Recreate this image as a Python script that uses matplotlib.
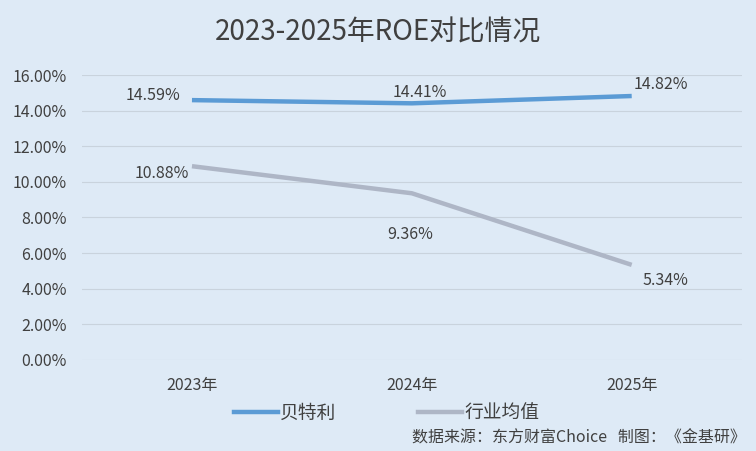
import matplotlib.pyplot as plt
from matplotlib.lines import Line2D

plt.rcParams['font.family'] = ['Noto Sans CJK SC', 'DejaVu Sans']

years = ['2023年', '2024年', '2025年']
betley = [14.59, 14.41, 14.82]
industry = [10.88, 9.36, 5.34]
yticks = [0, 2, 4, 6, 8, 10, 12, 14, 16]

bg = '#DEEAF6'
txt = '#404040'
blue = '#5B9BD5'
gray = '#AEB6C6'

fig = plt.figure(figsize=(7.56, 4.51), dpi=100, facecolor=bg)
ax = fig.add_axes([0.1085, 0.2018, 0.8725, 0.6319], facecolor=bg)

x = range(len(years))
ax.plot(x, betley, color=blue, lw=3.2, solid_capstyle='butt')
ax.plot(x, industry, color=gray, lw=3.2, solid_capstyle='butt')

ax.set_xlim(-0.5, 2.5)
ax.set_ylim(0, 16)
ax.set_yticks(yticks)
ax.set_yticklabels([f'{v:.2f}%' for v in yticks])
ax.set_xticks(list(x))
ax.set_xticklabels(years)
ax.tick_params(length=0, labelsize=11.5, colors=txt)
ax.tick_params(axis='y', pad=11)
ax.tick_params(axis='x', pad=12)
ax.grid(axis='y', color='#C9D3DD', lw=0.8)
ax.set_axisbelow(True)
for s in ax.spines.values():
    s.set_visible(False)

# data labels (offsets in points)
offsets_b = [(-28, 3.6), (6, 8), (21, 8)]
offsets_i = [(-22, -5), (-1.5, -30), (24, -11)]
for i, v in enumerate(betley):
    dx, dy = offsets_b[i]
    ax.annotate(f'{v:.2f}%', (i, v), xytext=(dx, dy), textcoords='offset points',
                ha='center', va='center', fontsize=11.5, color=txt)
for i, v in enumerate(industry):
    dx, dy = offsets_i[i]
    ax.annotate(f'{v:.2f}%', (i, v), xytext=(dx, dy), textcoords='offset points',
                ha='center', va='center', fontsize=11.5, color=txt)

fig.text(0.5, 0.927, '2023-2025年ROE对比情况', ha='center', va='center',
         fontsize=20, color=txt)

handles = [Line2D([], [], color=blue, lw=3.2), Line2D([], [], color=gray, lw=3.2)]
fig.legend(handles, ['贝特利', '行业均值'], loc='center', bbox_to_anchor=(0.511, 0.084),
           ncol=2, frameon=False, fontsize=13.5, labelcolor=txt, handlelength=2.35,
           handletextpad=0.1, columnspacing=4.4)

fig.text(0.986, 0.028, '数据来源：东方财富Choice   制图：《金基研》', ha='right', va='center',
         fontsize=11.5, color=txt)

fig.savefig('out.png', dpi=100, facecolor=bg)
